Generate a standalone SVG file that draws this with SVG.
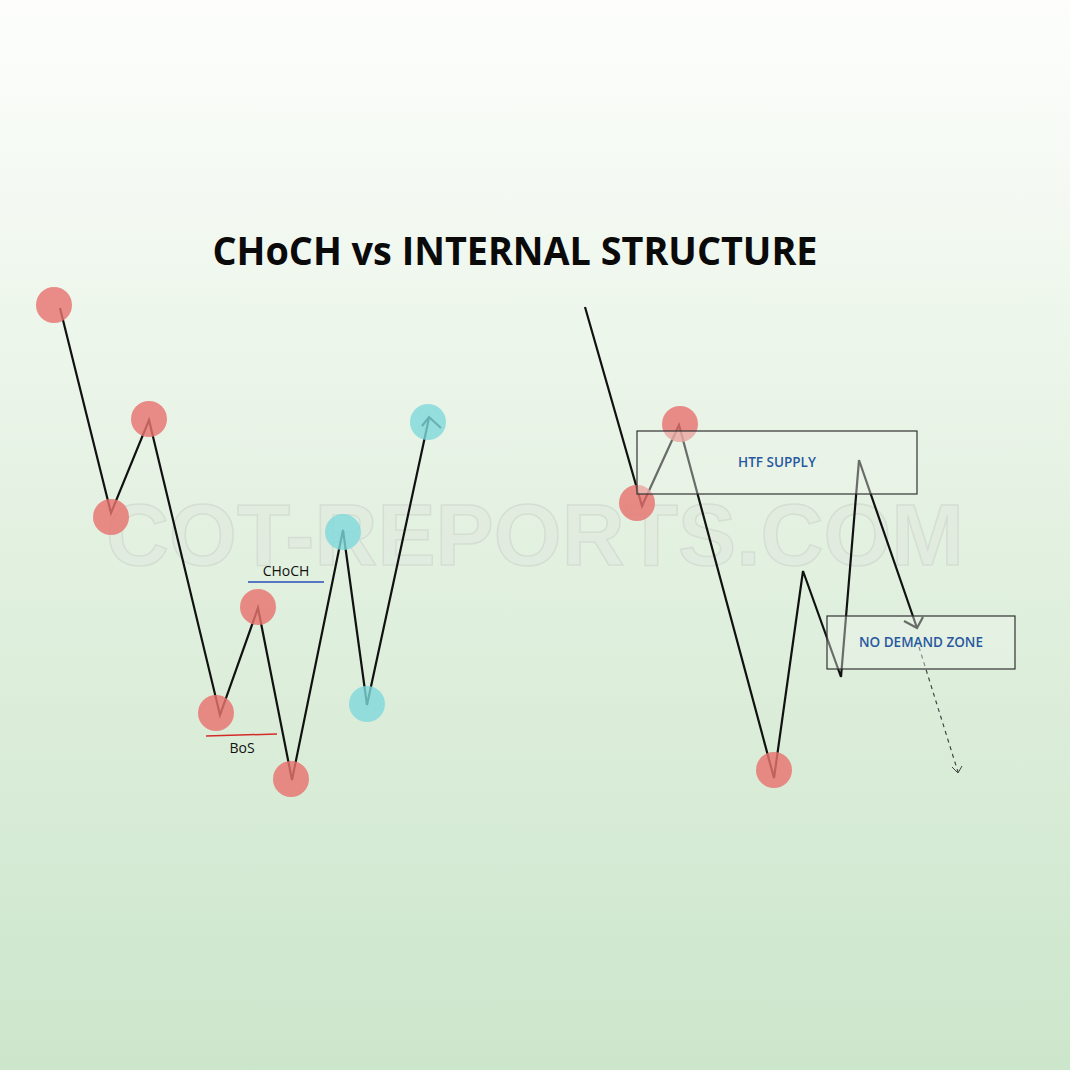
<svg xmlns="http://www.w3.org/2000/svg" width="1070" height="1070" viewBox="0 0 1070 1070">
<defs>
<linearGradient id="bg" x1="0" y1="0" x2="0" y2="1">
<stop offset="0" stop-color="#fdfefc"/>
<stop offset="0.5" stop-color="#e3f1e1"/>
<stop offset="1" stop-color="#cce6cb"/>
</linearGradient>
<style>
.ln{fill:none;stroke:#111;stroke-width:2.2;stroke-linejoin:miter}
.red{fill:#e8736f;fill-opacity:0.82}
.cyan{fill:#7fd8dc;fill-opacity:0.8}
.zone{fill:#eef6ec;fill-opacity:0.4;stroke:#333;stroke-width:1.2}
.ztx{font-family:"Open Sans","DejaVu Sans",sans-serif;font-size:13.5px;font-weight:600;fill:#2858a0;text-anchor:middle}
.lbl{font-family:"Open Sans","DejaVu Sans",sans-serif;font-size:14px;font-weight:500;fill:#111;text-anchor:middle}
</style>
</defs>
<rect width="1070" height="1070" fill="url(#bg)"/>
<text x="535" y="565" font-family="'Liberation Sans',Arial,sans-serif" font-weight="bold" font-size="88" text-anchor="middle" textLength="858" lengthAdjust="spacingAndGlyphs" fill="#e0eadd" fill-opacity="0.6" stroke="#d5ded3" stroke-width="1.5">COT-REPORTS.COM</text>
<text x="515" y="265" font-family="'Open Sans','DejaVu Sans',sans-serif" font-weight="bold" font-size="40" text-anchor="middle" textLength="605" lengthAdjust="spacingAndGlyphs" fill="#0a0a0a">CHoCH vs INTERNAL STRUCTURE</text>
<g id="connectors">
<polyline class="ln" points="60,308 111,513 149,420 220,715 258,608 292,780 343,530 367,705 429,418"/>
<polyline class="ln" points="422,426 429,417 441,428"/>
<line x1="248" y1="582" x2="324" y2="582" stroke="#2a4fb8" stroke-width="1.5"/>
<line x1="206" y1="736" x2="277" y2="734" stroke="#d42a2a" stroke-width="1.5"/>
<polyline class="ln" points="585,307 642,506 679,425 774,778 803,571 841,677 859,460 917,628"/>
<polyline class="ln" points="904,621 917,628 923,617"/>
<line x1="919" y1="647" x2="958" y2="772" stroke="#444" stroke-width="1.2" stroke-dasharray="4,4"/>
<polyline fill="none" stroke="#444" stroke-width="1" points="952,767 958,773 962,766"/>
</g>
<g id="left-chart">
<g id="p1"><circle class="red" cx="54" cy="305" r="18"/></g>
<g id="p2"><circle class="red" cx="111" cy="517" r="18"/></g>
<g id="p3"><circle class="red" cx="149" cy="419" r="18"/></g>
<g id="p4"><circle class="red" cx="216" cy="713" r="18"/></g>
<g id="p5"><circle class="red" cx="258" cy="607" r="18"/></g>
<g id="p6"><circle class="red" cx="291" cy="779" r="18"/></g>
<g id="p7"><circle class="cyan" cx="343" cy="532" r="18"/></g>
<g id="p8"><circle class="cyan" cx="367" cy="704" r="18"/></g>
<g id="p9"><circle class="cyan" cx="428" cy="422" r="18"/></g>
<g id="choch-label"><text class="lbl" x="286" y="576">CHoCH</text></g>
<g id="bos-label"><text class="lbl" x="242" y="753">BoS</text></g>
</g>
<g id="right-chart">
<g id="r1"><circle class="red" cx="637" cy="503" r="18"/></g>
<g id="r2"><circle class="red" cx="680" cy="424" r="18"/></g>
<g id="r3"><circle class="red" cx="774" cy="770" r="18"/></g>
<g id="htf-supply"><rect class="zone" x="637" y="431" width="280" height="63"/><text class="ztx" x="777" y="467">HTF SUPPLY</text></g>
<g id="no-demand-zone"><rect class="zone" x="827" y="616" width="188" height="53"/><text class="ztx" x="921" y="647">NO DEMAND ZONE</text></g>
</g>
</svg>
